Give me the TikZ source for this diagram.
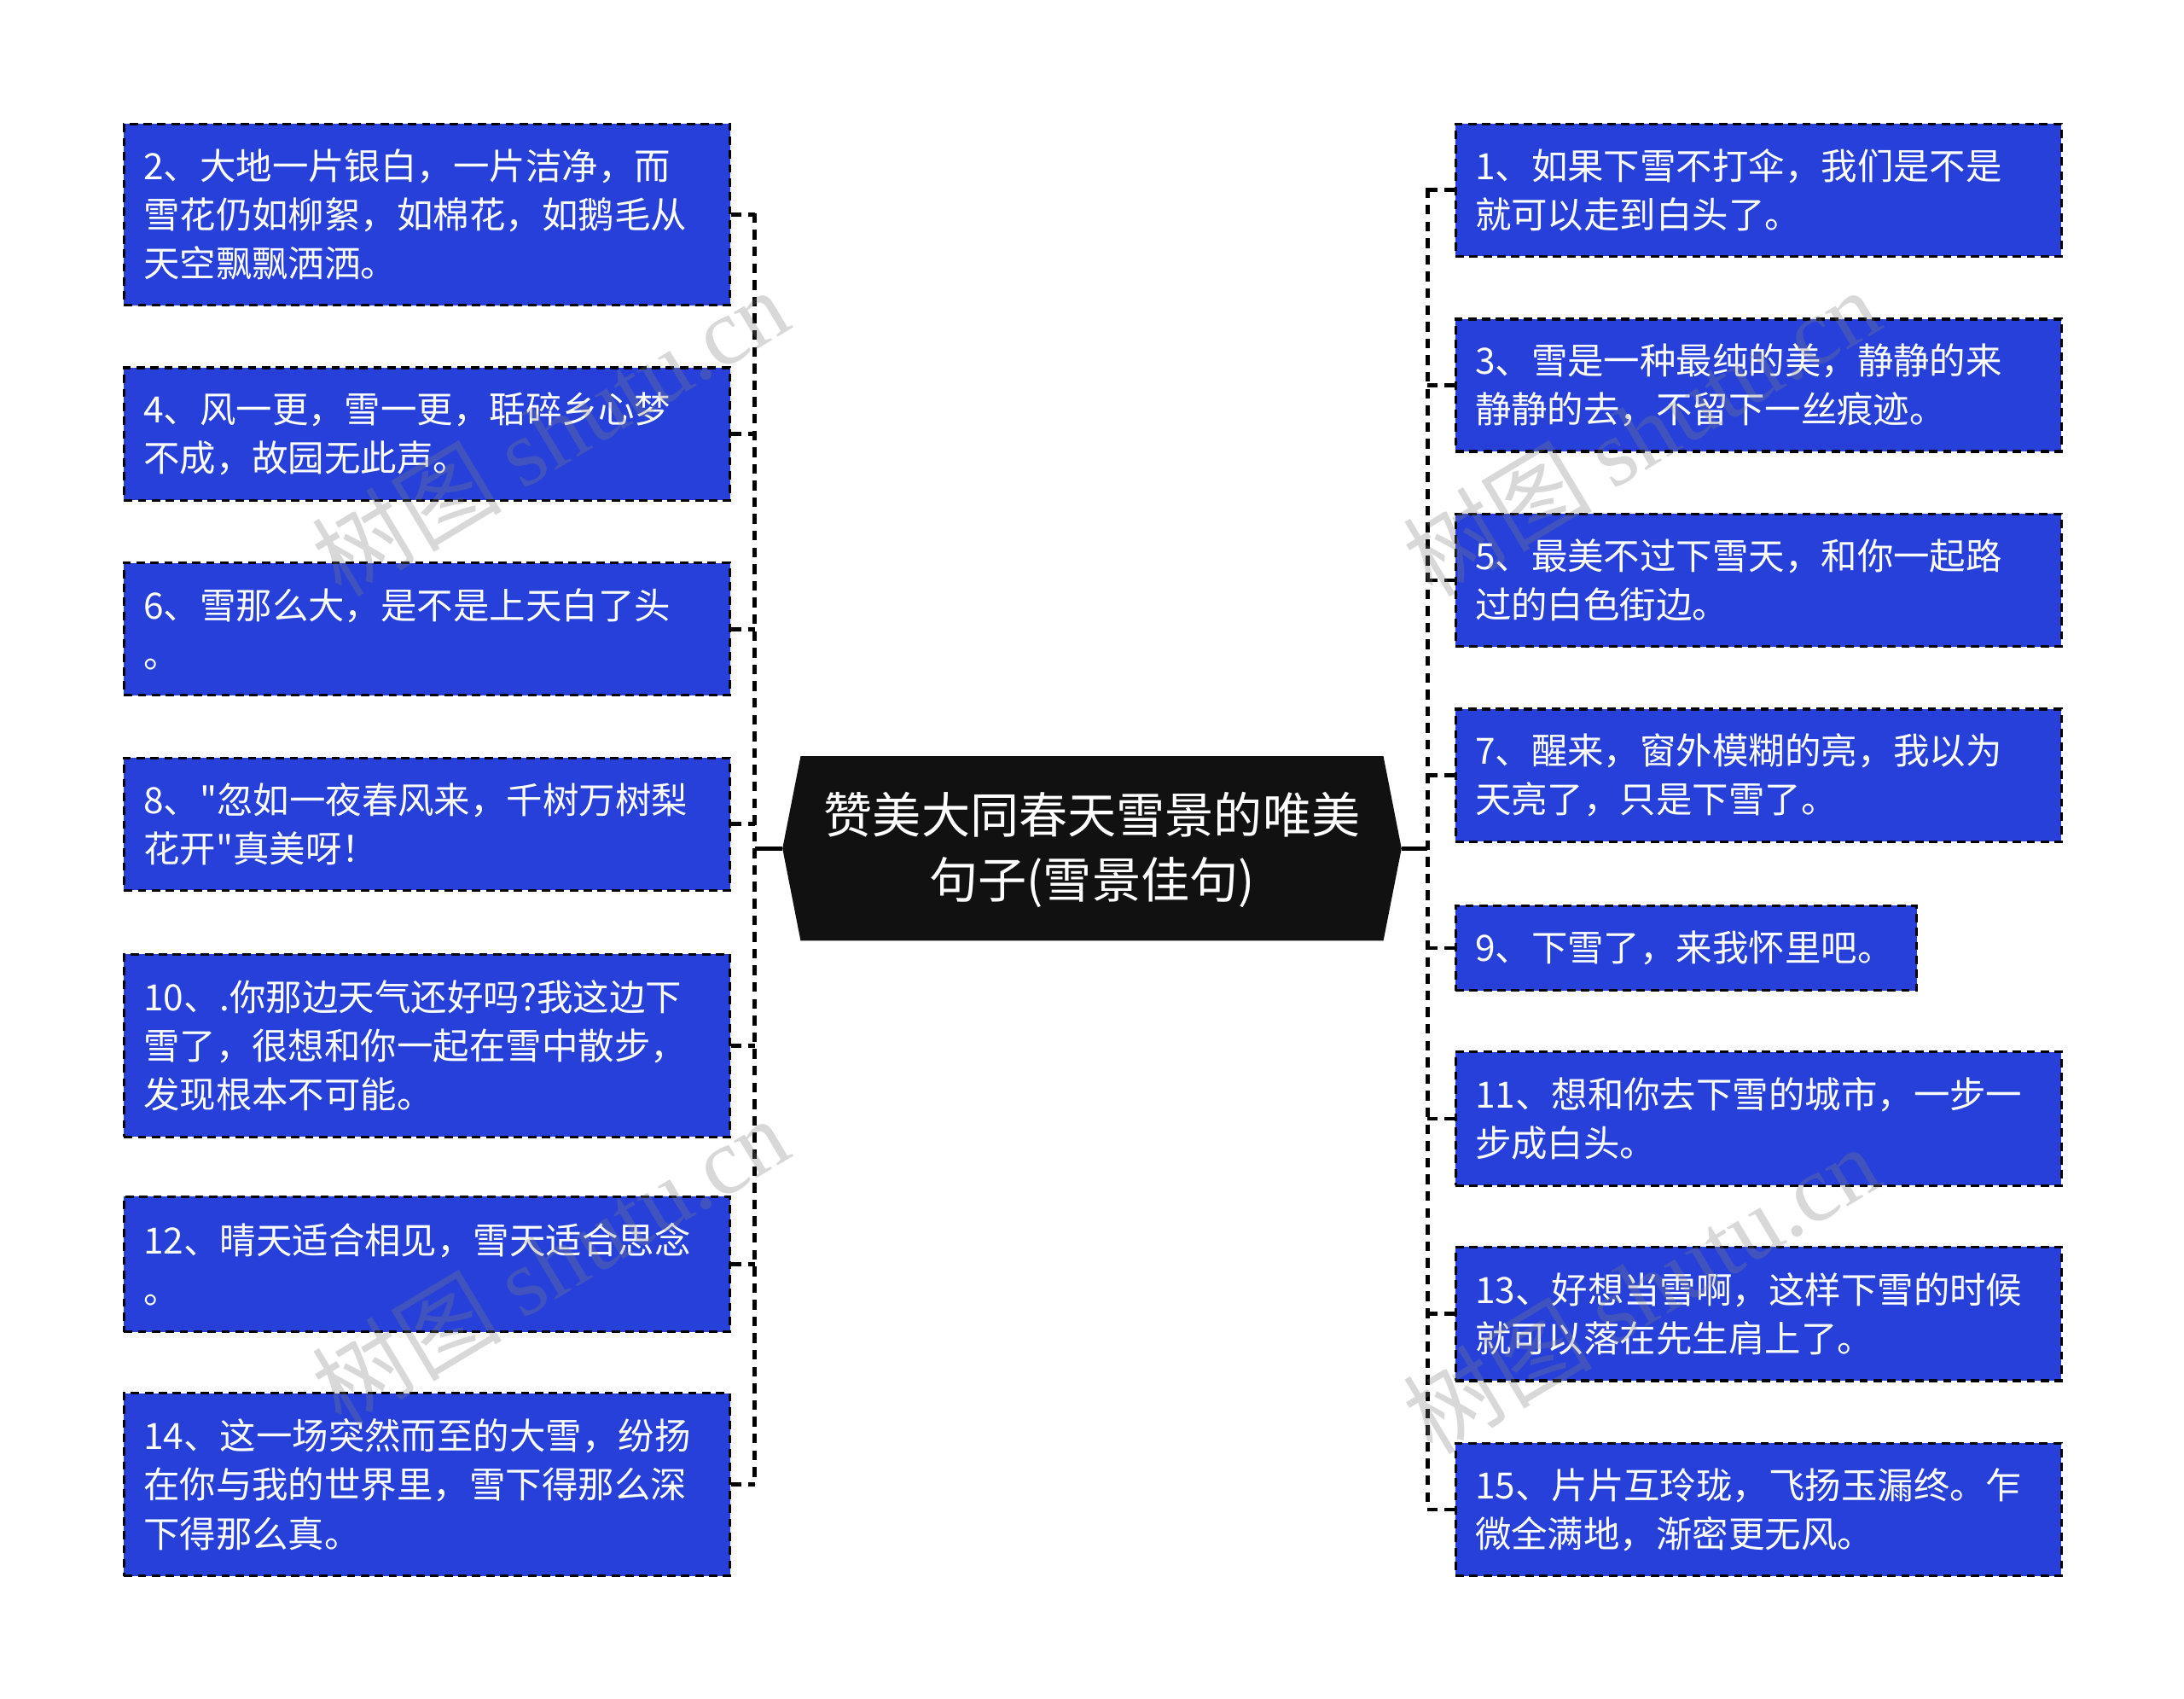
\documentclass[tikz,border=0pt]{standalone}
\usepackage{fontspec}
\setmainfont{Noto Sans CJK SC}
\newfontfamily\cjk{Noto Sans CJK SC}
\newfontfamily\wmlatin{Liberation Serif}
\usetikzlibrary{calc}
\definecolor{boxblue}{RGB}{38,64,217}
\definecolor{ctrblack}{RGB}{17,17,17}
\tikzset{
  box/.style={rectangle, fill=boxblue, draw=black, line width=2pt, dash pattern=on 6pt off 4pt,
    text=white, align=left, inner xsep=14pt, inner ysep=0pt, anchor=north west,
    font=\cjk\fontsize{26}{35}\selectfont},
  wide/.style={minimum width=435pt, text width=407pt},
  conn/.style={draw=black, line width=3pt, dash pattern=on 7pt off 5pt},
  solidconn/.style={draw=black, line width=3pt},
  wm/.style={text=gray, opacity=0.3, rotate=31, font=\cjk\fontsize{68}{68}\selectfont}
}
\begin{document}
\begin{tikzpicture}[x=1pt,y=-1pt]
\useasboundingbox (0,0) rectangle (1568,1219);
\fill[white] (0,0) rectangle (1568,1219);

% center node
\node[minimum width=444pt, minimum height=132pt, inner sep=0pt] (ctr) at (784,609) {};
\fill[ctrblack] (ctr.west) -- ($(ctr.north west)+(13,0)$) -- ($(ctr.north east)+(-13,0)$) -- (ctr.east)
  -- ($(ctr.south east)+(-13,0)$) -- ($(ctr.south west)+(13,0)$) -- cycle;
\node[text=white, align=center, font=\cjk\fontsize{35}{46}\selectfont] (ctrtext) at ($(ctr.center)+(0,1)$)
  {赞美大同春天雪景的唯美\\句子(雪景佳句)};

% left boxes
\node[box, wide, minimum height=130pt] (L2) at (88,88)
  {2、大地一片银白，一片洁净，而\\雪花仍如柳絮，如棉花，如鹅毛从\\天空飘飘洒洒。};
\node[box, wide, minimum height=95pt] (L4) at (88,263)
  {4、风一更，雪一更，聒碎乡心梦\\不成，故园无此声。};
\node[box, wide, minimum height=95pt] (L6) at (88,403)
  {6、雪那么大，是不是上天白了头\\。};
\node[box, wide, minimum height=95pt] (L8) at (88,543)
  {8、"忽如一夜春风来，千树万树梨\\花开"真美呀！};
\node[box, wide, minimum height=131pt] (L10) at (88,684)
  {10、.你那边天气还好吗?我这边下\\雪了，很想和你一起在雪中散步，\\发现根本不可能。};
\node[box, wide, minimum height=97pt] (L12) at (88,858)
  {12、晴天适合相见，雪天适合思念\\。};
\node[box, wide, minimum height=131pt] (L14) at (88,999)
  {14、这一场突然而至的大雪，纷扬\\在你与我的世界里，雪下得那么深\\下得那么真。};

% right boxes
\node[box, wide, minimum height=95pt] (R1) at (1044,88)
  {1、如果下雪不打伞，我们是不是\\就可以走到白头了。};
\node[box, wide, minimum height=95pt] (R3) at (1044,228)
  {3、雪是一种最纯的美，静静的来\\静静的去，不留下一丝痕迹。};
\node[box, wide, minimum height=95pt] (R5) at (1044,368)
  {5、最美不过下雪天，和你一起路\\过的白色街边。};
\node[box, wide, minimum height=95pt] (R7) at (1044,508)
  {7、醒来，窗外模糊的亮，我以为\\天亮了，只是下雪了。};
\node[box, minimum width=331pt, text width=303pt, minimum height=61pt] (R9) at (1044,649)
  {9、下雪了，来我怀里吧。};
\node[box, wide, minimum height=96pt] (R11) at (1044,754)
  {11、想和你去下雪的城市，一步一\\步成白头。};
\node[box, wide, minimum height=96pt] (R13) at (1044,894)
  {13、好想当雪啊，这样下雪的时候\\就可以落在先生肩上了。};
\node[box, wide, minimum height=95pt] (R15) at (1044,1035)
  {15、片片互玲珑，飞扬玉漏终。乍\\微全满地，渐密更无风。};

% trunks
\coordinate (LT) at (542,153);
\coordinate (LB) at (542,1065);
\coordinate (RT) at (1025,135);
\coordinate (RB) at (1025,1082);
\draw[conn] (LT) -- (LB);
\draw[conn] (RT) -- (RB);

% center links
\coordinate (LJ) at (542,609);
\coordinate (RJ) at (1025,609);
\draw[solidconn] (ctr.west) -- (LJ);
\draw[solidconn] (ctr.east) -- (RJ);

% left stubs
\foreach \n in {L2,L4,L6,L8,L10,L12,L14}{
  \draw[conn] (\n.east) -- (\n.east -| LT);
}
% right stubs
\foreach \n in {R1,R3,R5,R7,R9,R11,R13,R15}{
  \draw[conn] (\n.west -| RT) -- (\n.west);
}

% watermarks
\node[wm] (wm1) at (395,310) {树图 {\wmlatin shutu.cn}};
\node[wm] (wm2) at (395,905) {树图 {\wmlatin shutu.cn}};
\node[wm] (wm3) at (1178,310) {树图 {\wmlatin shutu.cn}};
\node[wm] (wm4) at (1178,925) {树图 {\wmlatin shutu.cn}};
\end{tikzpicture}
\end{document}
